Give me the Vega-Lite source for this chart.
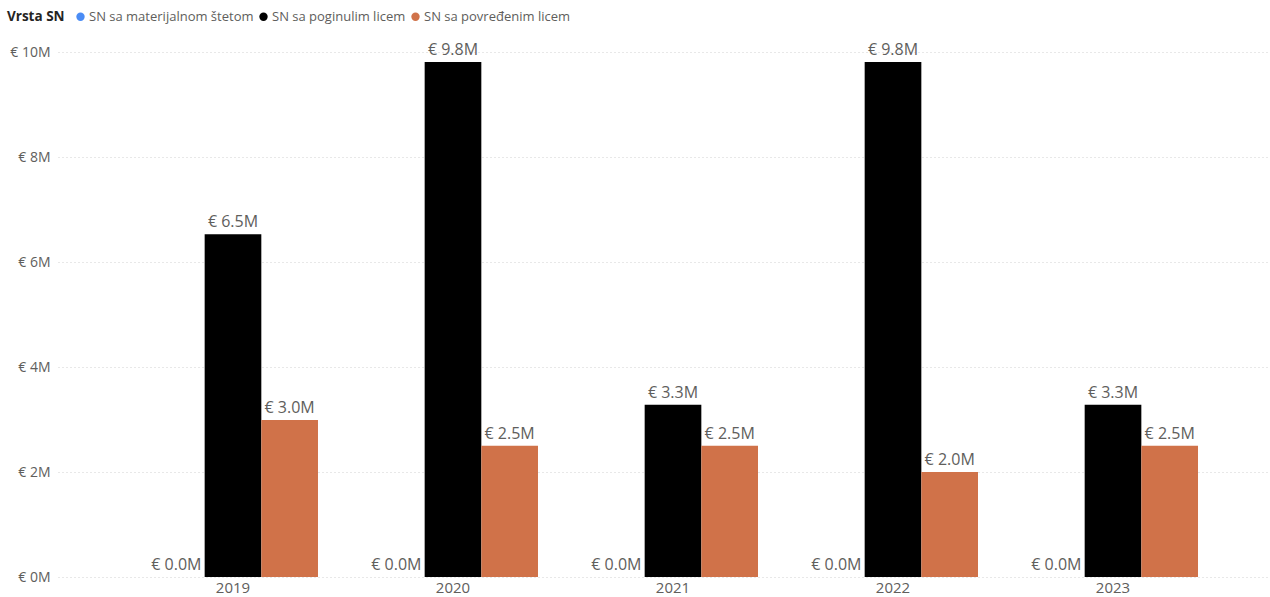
{
  "$schema": "https://vega.github.io/schema/vega-lite/v6.json",
  "width": 1210,
  "height": 525,
  "autosize": {"type": "none"},
  "padding": {"left": 58, "top": 52, "right": 2, "bottom": 20},
  "background": "white",
  "config": {
    "locale": {"number": {"decimal": ".", "thousands": ",", "grouping": [3], "currency": ["€ ", "M"]}},
    "font": "Open Sans",
    "view": {"stroke": null}
  },
  "data": {
    "values": [
      {"year": "2019", "series": "SN sa materijalnom štetom", "value": 0},
      {"year": "2019", "series": "SN sa poginulim licem", "value": 6.53},
      {"year": "2019", "series": "SN sa povređenim licem", "value": 2.99},
      {"year": "2020", "series": "SN sa materijalnom štetom", "value": 0},
      {"year": "2020", "series": "SN sa poginulim licem", "value": 9.81},
      {"year": "2020", "series": "SN sa povređenim licem", "value": 2.5},
      {"year": "2021", "series": "SN sa materijalnom štetom", "value": 0},
      {"year": "2021", "series": "SN sa poginulim licem", "value": 3.28},
      {"year": "2021", "series": "SN sa povređenim licem", "value": 2.5},
      {"year": "2022", "series": "SN sa materijalnom štetom", "value": 0},
      {"year": "2022", "series": "SN sa poginulim licem", "value": 9.81},
      {"year": "2022", "series": "SN sa povređenim licem", "value": 2.0},
      {"year": "2023", "series": "SN sa materijalnom štetom", "value": 0},
      {"year": "2023", "series": "SN sa poginulim licem", "value": 3.28},
      {"year": "2023", "series": "SN sa povređenim licem", "value": 2.5}
    ]
  },
  "encoding": {
    "x": {
      "field": "year", "type": "nominal",
      "scale": {"paddingInner": 0.2273, "paddingOuter": 0.3636, "align": 0.5625},
      "axis": {"title": null, "labelAngle": 0, "domain": false, "ticks": false, "labelFontSize": 15, "labelColor": "#605E5C", "labelPadding": 3}
    },
    "xOffset": {
      "field": "series", "type": "nominal",
      "scale": {"domain": ["SN sa materijalnom štetom", "SN sa poginulim licem", "SN sa povređenim licem"], "paddingInner": 0, "paddingOuter": 0}
    },
    "y": {
      "field": "value", "type": "quantitative",
      "scale": {"domain": [0, 10], "nice": false},
      "axis": {"title": null, "values": [0, 2, 4, 6, 8, 10], "format": "$.0f", "domain": false, "ticks": false, "labelFontSize": 14, "labelColor": "#605E5C", "labelPadding": 8, "gridColor": "#D0D0D0", "gridDash": [1, 3], "gridWidth": 1}
    }
  },
  "layer": [
    {
      "mark": {"type": "bar"},
      "encoding": {
        "color": {
          "field": "series", "type": "nominal",
          "scale": {"domain": ["SN sa materijalnom štetom", "SN sa poginulim licem", "SN sa povređenim licem"], "range": ["#4A8CF5", "#000000", "#D07249"]},
          "legend": {
            "title": "Vrsta SN", "orient": "none", "direction": "horizontal", "titleOrient": "left",
            "legendX": -51, "legendY": -42,
            "titleFontSize": 13.5, "titleFontWeight": "bold", "titleColor": "#252423", "titlePadding": 9,
            "labelFontSize": 13, "labelColor": "#605E5C", "labelOffset": 2, "labelLimit": 400,
            "symbolType": "circle", "symbolSize": 70, "symbolStrokeWidth": 0, "columnPadding": 3
          }
        }
      }
    },
    {
      "mark": {"type": "text", "baseline": "alphabetic", "dy": -7, "fontSize": 16, "color": "#605E5C"},
      "encoding": {
        "text": {"field": "value", "type": "quantitative", "format": "$.1f"}
      }
    }
  ]
}
